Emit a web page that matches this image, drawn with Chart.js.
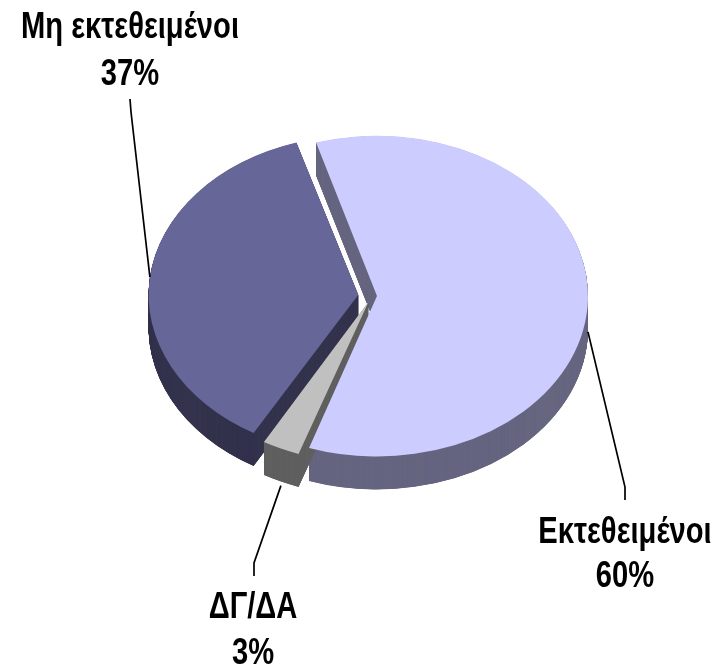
<!DOCTYPE html>
<html><head><meta charset="utf-8">
<style>html,body{margin:0;padding:0;background:#fff}#w{width:716px;height:667px}</style>
<script src="https://cdn.jsdelivr.net/npm/chart.js@4"></script></head>
<body><div id="w"><canvas id="c" width="716" height="667"></canvas></div>
<script>
const categories = ["Εκτεθειμένοι", "ΔΓ/ΔΑ", "Μη εκτεθειμένοι"];
const shares = [60, 3, 37];
const topColors = ["#CCCCFF", "#C0C0C0", "#666699"];
const sideColors = ["#666680", "#606060", "#33334D"];
const explode = [20, 32, 55];

const CX = 372, CY = 296, TILT = 0.76, DEPTH = 33, RADIUS = 206;
const callouts = [
  {lines:[[625,500],[625,487]], text:[625,543,587], bottom:true},
  {lines:[[254,576],[254,563]], text:[253,618,664], bottom:true, gap:4},
  {lines:[[130,99],[131,112]], text:[130,38,85], bottom:false}
];

const pie3d = {
  id:'pie3d',
  beforeDatasetsDraw(chart){
    const ctx = chart.ctx, arcs = chart.getDatasetMeta(0).data;
    const draw = Chart.ArcElement.prototype.draw;
    ctx.save();
    ctx.translate(0, CY); ctx.scale(1, TILT); ctx.translate(0, -CY);
    [0,2,1].forEach(i=>{
      const el = arcs[i];
      const ghost = Object.create(el);
      ghost.options = Object.assign({}, el.options, {backgroundColor:sideColors[i], borderWidth:0});
      for(let d=DEPTH; d>=0.5; d-=0.25){
        ctx.save(); ctx.translate(0, d/TILT); draw.call(ghost, ctx); ctx.restore();
      }
    });
  },
  afterDatasetsDraw(chart){
    const ctx = chart.ctx, arcs = chart.getDatasetMeta(0).data;
    ctx.restore();
    ctx.save();
    ctx.strokeStyle = '#000'; ctx.lineWidth = 1.7; ctx.fillStyle = '#000';
    ctx.textAlign = 'center'; ctx.textBaseline = 'alphabetic';
    ctx.font = 'bold 36px "Liberation Sans"';
    arcs.forEach((el,i)=>{
      const c = callouts[i];
      const mid = (el.startAngle + el.endAngle)/2;
      const frac = 1 - Math.sin(Math.min(Math.PI, el.circumference));
      const off = explode[i]/4*(1+frac);
      const r = RADIUS + off;
      const sx = el.x + r*Math.cos(mid);
      const sy = CY + r*Math.sin(mid)*TILT + (c.bottom ? DEPTH : 0) + (c.gap||0);
      ctx.beginPath();
      ctx.moveTo(sx, sy);
      for(let k=c.lines.length-1;k>=0;k--) ctx.lineTo(c.lines[k][0], c.lines[k][1]);
      ctx.stroke();
      [categories[i], shares[i]+'%'].forEach((t,n)=>{
        ctx.save();
        ctx.translate(c.text[0], c.text[n+1]);
        ctx.scale(0.81,1);
        ctx.fillText(t,0,0);
        ctx.restore();
      });
    });
    ctx.restore();
  }
};

new Chart(document.getElementById('c'),{
  type:'pie',
  data:{labels:categories,datasets:[{
    data:shares,backgroundColor:topColors,borderWidth:0,offset:explode,
    radius:RADIUS,clip:false
  }]},
  options:{
    responsive:false,animation:false,rotation:-17,
    layout:{padding:{left:2*CX-716,top:0,right:0,bottom:667-2*CY}},
    plugins:{legend:{display:false},tooltip:{enabled:false},title:{display:false}}
  },
  plugins:[pie3d]
});
</script></body></html>
